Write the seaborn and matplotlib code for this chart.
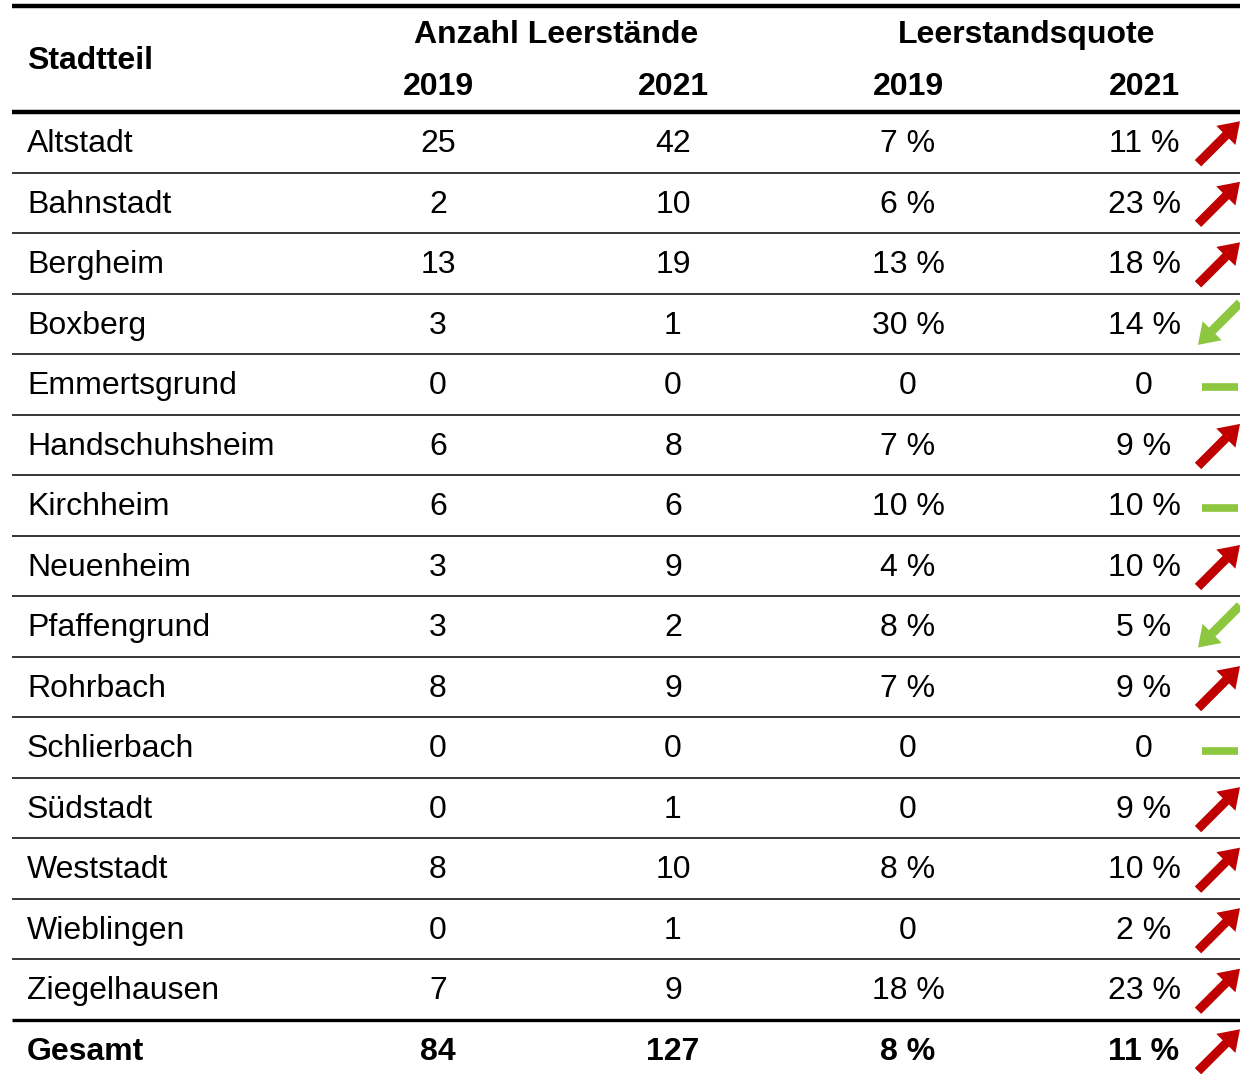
import matplotlib
matplotlib.use("Agg")
import matplotlib.pyplot as plt
import matplotlib.patches as mpatches
import seaborn as sns

sns.set_theme(style="white")
plt.rcParams['font.family'] = ['Liberation Sans', 'DejaVu Sans']
plt.rcParams['text.color'] = 'black'

stadtteile = ["Altstadt", "Bahnstadt", "Bergheim", "Boxberg", "Emmertsgrund",
              "Handschuhsheim", "Kirchheim", "Neuenheim", "Pfaffengrund", "Rohrbach",
              "Schlierbach", "Südstadt", "Weststadt", "Wieblingen", "Ziegelhausen"]
anzahl_2019 = [25, 2, 13, 3, 0, 6, 6, 3, 3, 8, 0, 0, 8, 0, 7]
anzahl_2021 = [42, 10, 19, 1, 0, 8, 6, 9, 2, 9, 0, 1, 10, 1, 9]
quote_2019 = [7, 6, 13, 30, 0, 7, 10, 4, 8, 7, 0, 0, 8, 0, 18]
quote_2021 = [11, 23, 18, 14, 0, 9, 10, 10, 5, 9, 0, 9, 10, 2, 23]
gesamt_label = "Gesamt"
gesamt_anzahl = [84, 127]
gesamt_quote = [8, 11]

RED = "#C00000"
GREEN = "#8DC63F"
W, H = 1240, 1074

fig = plt.figure(figsize=(W / 100, H / 100), dpi=100)
ax = fig.add_axes([0, 0, 1, 1])
ax.set_xlim(0, W)
ax.set_ylim(H, 0)
ax.axis("off")

FS = 23
col_x = [438, 673, 908, 1144]
x_left = 27
line_x0, line_x1 = 12, 1240

# header
ax.text(x_left, 69, "Stadtteil", fontsize=FS, fontweight="bold", ha="left", va="baseline", color="black")
ax.text(556, 43, "Anzahl Leerstände", fontsize=FS, fontweight="bold", ha="center", va="baseline", color="black")
ax.text(1027, 43, "Leerstandsquote", fontsize=FS, fontweight="bold", ha="center", va="baseline", color="black")
for x, yr in zip(col_x, ["2019", "2021", "2019", "2021"]):
    ax.text(x, 95, yr, fontsize=FS, fontweight="bold", ha="center", va="baseline", color="black")

ax.plot([line_x0, line_x1], [6, 6], color="black", lw=3.2, solid_capstyle="butt")
ax.plot([line_x0, line_x1], [112, 112], color="black", lw=3.2, solid_capstyle="butt")


def fmt_pct(v):
    return "0" if v == 0 else f"{v} %"


def draw_trend(yc, a, b):
    x0, x1 = 1198, 1240
    d = x1 - x0
    if b > a:
        arr = mpatches.FancyArrow(x0, yc + 21, d, -d, width=9,
                                  head_width=27, head_length=20,
                                  length_includes_head=True, color=RED, lw=0)
        ax.add_patch(arr)
    elif b < a:
        arr = mpatches.FancyArrow(x1, yc - 21, -d, d, width=9,
                                  head_width=27, head_length=20,
                                  length_includes_head=True, color=GREEN, lw=0)
        ax.add_patch(arr)
    else:
        ax.plot([1202, 1238], [yc + 3, yc + 3], color=GREEN, lw=5.5, solid_capstyle="butt")


top = 112
rh = (1020 - 112) / 15
for i, name in enumerate(stadtteile):
    yl0 = top + rh * i
    yb = yl0 + 40
    yc = yl0 + rh / 2
    ax.text(x_left, yb, name, fontsize=FS, ha="left", va="baseline", color="black")
    vals = [str(anzahl_2019[i]), str(anzahl_2021[i]), fmt_pct(quote_2019[i]), fmt_pct(quote_2021[i])]
    for x, v in zip(col_x, vals):
        ax.text(x, yb, v, fontsize=FS, ha="center", va="baseline", color="black")
    draw_trend(yc, quote_2019[i], quote_2021[i])
    yl = top + rh * (i + 1)
    if i < len(stadtteile) - 1:
        ax.plot([line_x0, line_x1], [yl, yl], color="black", lw=1.1, solid_capstyle="butt")
    else:
        ax.plot([line_x0, line_x1], [yl, yl], color="black", lw=2.4, solid_capstyle="butt")

yb = 1060
ax.text(x_left, yb, gesamt_label, fontsize=FS, fontweight="bold", ha="left", va="baseline", color="black")
gvals = [str(gesamt_anzahl[0]), str(gesamt_anzahl[1]), fmt_pct(gesamt_quote[0]), fmt_pct(gesamt_quote[1])]
for x, v in zip(col_x, gvals):
    ax.text(x, yb, v, fontsize=FS, fontweight="bold", ha="center", va="baseline", color="black")
draw_trend(1020 + rh / 2, gesamt_quote[0], gesamt_quote[1])

fig.savefig("out.png", dpi=100, facecolor="white")
